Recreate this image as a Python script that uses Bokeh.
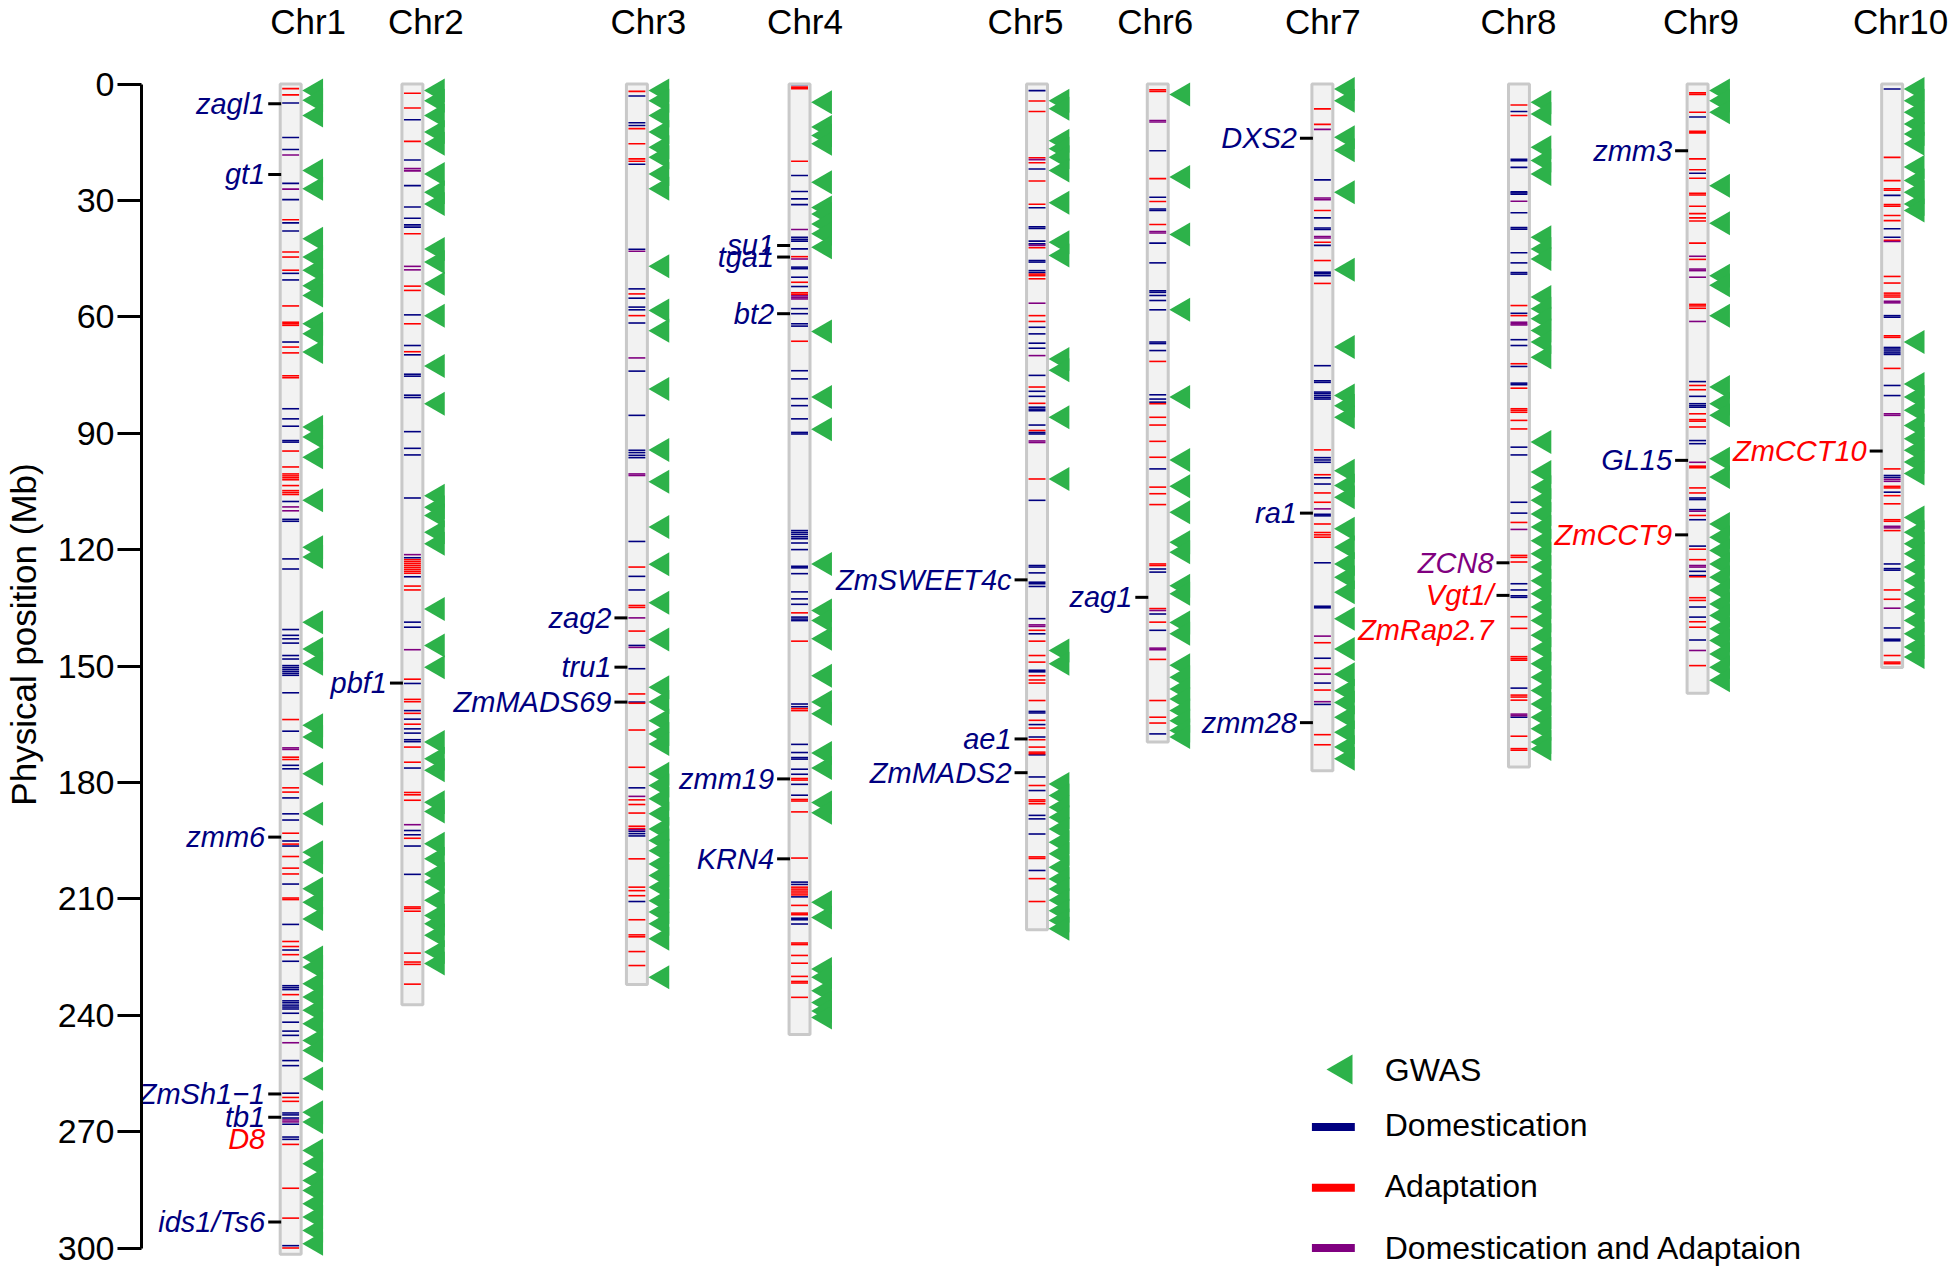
import math
from bokeh.plotting import figure
from bokeh.models import Range1d, LinearAxis, FixedTicker, ColumnDataSource
from bokeh.core.properties import value
from bokeh.embed import file_html
from bokeh.resources import INLINE

# ---------------- data (Mb) ----------------
CHROMS = ["Chr1", "Chr2", "Chr3", "Chr4", "Chr5", "Chr6", "Chr7", "Chr8", "Chr9", "Chr10"]
CHR_LEN = [301.6, 237.3, 232.1, 245.0, 218.0, 169.6, 177.0, 176.0, 157.0, 150.4]
Y_TICKS = [0, 30, 60, 90, 120, 150, 180, 210, 240, 270, 300]

DOM_1 = [4.9, 13.8, 16.9, 25.6, 29.8, 35.8, 37.9, 48.8, 50.5, 66.5, 83.7, 86.3, 88.2, 91.9, 92.3,
         107.6, 112.2, 112.7, 122.4, 125.0, 140.6, 142.1, 143.0, 144.1, 147.3, 148.2, 149.9, 150.4,
         150.9, 151.4, 151.9, 152.4, 156.9, 166.8, 175.6, 176.5, 184.0, 188.1, 189.7, 195.1, 196.4,
         206.2, 216.6, 223.2, 226.1, 232.4, 232.9, 233.4, 236.3, 236.8, 237.4, 237.9, 238.4, 239.5,
         241.8, 244.1, 245.2, 251.7, 253.0, 260.1, 265.2, 265.7, 266.5, 268.1, 271.4, 272.0, 299.4]
ADA_1 = [1.2, 2.8, 35.0, 43.3, 44.6, 48.0, 57.2, 61.4, 61.8, 62.2, 67.8, 69.3, 75.2, 75.7, 94.6,
         98.7, 100.5, 101.0, 101.5, 102.0, 103.5, 104.8, 105.3, 105.8, 163.8, 173.5, 174.1, 181.4,
         182.5, 193.1, 195.9, 199.1, 202.1, 203.6, 209.8, 210.2, 221.0, 222.3, 224.4, 234.7, 261.2,
         262.2, 273.3, 284.6, 292.3, 300.0]
BOTH_1 = [18.3, 27.1, 109.0, 110.0, 171.1, 171.5, 247.1, 267.0, 267.5]
GWAS_1 = [1.7, 4.2, 8.1, 22.3, 27.0, 39.9, 44.6, 48.0, 52.0, 54.5, 61.8, 64.4, 69.1, 88.4, 91.0,
          96.2, 107.3, 119.4, 121.9, 138.7, 145.6, 149.4, 165.3, 168.3, 177.8, 188.1, 198.0, 200.6,
          207.4, 210.9, 215.2, 225.1, 227.6, 231.9, 235.3, 238.7, 242.2, 246.5, 249.1, 256.4, 265.0,
          267.5, 274.9, 278.3, 282.6, 285.2, 288.6, 292.0, 295.5, 298.9]

DOM_2 = [9.2, 19.6, 26.2, 31.7, 34.6, 36.3, 36.9, 59.5, 67.4, 69.8, 74.8, 75.3, 80.2, 80.8, 89.6,
         93.9, 95.6, 106.7, 122.1, 127.0, 138.7, 140.0, 154.5, 161.5, 163.7, 166.2, 167.3, 169.0,
         169.5, 176.3, 192.4, 193.5, 196.4, 203.7]
ADA_2 = [2.4, 6.2, 14.8, 38.6, 52.1, 53.2, 61.8, 69.0, 122.6, 123.1, 123.6, 124.1, 124.6, 125.1,
         125.6, 126.1, 129.4, 130.4, 153.4, 158.6, 159.2, 162.2, 165.0, 170.9, 174.8, 182.6, 183.2,
         184.6, 194.4, 212.1, 212.5, 213.2, 224.0, 226.3, 226.9, 232.0]
BOTH_2 = [21.8, 22.4, 47.0, 47.9, 121.3, 145.8, 190.9]
GWAS_2 = [1.7, 4.3, 8.1, 12.4, 15.4, 23.2, 27.9, 30.9, 42.5, 45.9, 51.5, 59.7, 72.7, 82.4, 106.1,
          109.1, 111.2, 115.5, 118.5, 135.3, 144.7, 150.3, 169.6, 173.9, 176.9, 185.1, 187.5, 195.8,
          199.7, 203.6, 205.7, 210.4, 214.3, 216.4, 219.4, 223.7, 226.7]

DOM_3 = [3.1, 10.0, 10.7, 20.7, 42.6, 52.8, 55.2, 57.5, 58.2, 61.6, 74.0, 85.4, 94.4, 95.0, 95.7,
         96.3, 117.9, 126.9, 130.4, 144.7, 150.7, 159.3, 181.4, 192.6, 193.2, 193.8, 210.7]
ADA_3 = [1.9, 11.5, 15.4, 19.3, 19.9, 54.1, 59.7, 124.5, 134.4, 134.9, 141.0, 157.2, 159.6, 166.5,
         176.1, 184.5, 185.7, 187.9, 191.3, 191.9, 199.7, 207.0, 207.9, 209.2, 215.4, 219.3, 219.8,
         223.6, 227.2]
BOTH_3 = [43.1, 70.6, 100.5, 100.9, 137.6, 145.2, 183.6, 192.2]
GWAS_3 = [1.7, 4.3, 8.1, 12.4, 16.3, 18.9, 23.2, 27.0, 47.0, 58.4, 63.6, 78.6, 94.3, 102.5, 114.2,
          123.8, 133.7, 143.2, 155.5, 159.3, 164.1, 167.5, 170.1, 177.8, 180.8, 184.2, 188.1, 192.0,
          195.0, 197.6, 201.0, 204.0, 207.0, 210.5, 213.4, 216.4, 220.3, 230.2]

DOM_4 = [0.2, 23.6, 27.7, 29.6, 31.1, 39.5, 40.0, 40.5, 42.5, 47.2, 47.6, 49.8, 52.2, 57.9, 59.2,
         61.8, 62.4, 73.9, 76.0, 81.1, 82.9, 86.3, 89.8, 90.2, 115.1, 115.6, 116.1, 116.7, 117.2,
         118.3, 120.0, 124.3, 124.7, 126.2, 130.9, 132.7, 134.1, 137.4, 137.9, 138.3, 159.8, 160.5,
         170.2, 172.3, 173.6, 174.0, 176.6, 177.9, 180.5, 183.3, 205.7, 206.3, 209.5, 215.0, 215.4,
         216.5]
ADA_4 = [0.8, 1.2, 19.9, 44.5, 51.1, 53.8, 54.2, 66.3, 136.3, 143.6, 161.0, 161.5, 179.0, 179.4,
         184.4, 184.8, 187.6, 199.5, 207.0, 207.5, 208.0, 208.5, 209.0, 211.7, 213.7, 214.1, 221.4,
         221.8, 224.6, 226.6, 230.0, 231.3, 231.7, 235.4]
BOTH_4 = [37.5, 45.1, 54.6, 55.0, 55.4]
GWAS_4 = [4.7, 11.1, 13.3, 15.4, 25.3, 31.8, 33.5, 36.1, 38.6, 42.1, 63.8, 80.7, 89.0, 123.7,
          135.7, 138.3, 143.0, 152.5, 159.3, 162.3, 172.4, 176.3, 185.2, 187.8, 210.9, 214.8, 228.1,
          230.2, 233.7, 236.7, 238.9, 240.6]

DOM_5 = [1.7, 21.9, 31.9, 36.8, 37.2, 40.5, 41.2, 45.5, 45.9, 48.1, 48.6, 62.7, 64.4, 66.8, 68.1,
         75.1, 79.2, 80.5, 83.3, 83.8, 84.2, 87.9, 89.8, 90.2, 107.3, 124.1, 124.5, 126.0, 128.4,
         128.8, 129.5, 137.8, 141.7, 151.1, 151.5, 161.7, 162.1, 165.1, 168.3, 172.9, 178.6, 182.1,
         188.5, 189.4, 193.3, 202.7]
ADA_5 = [4.4, 7.1, 19.0, 20.3, 25.0, 31.0, 42.2, 49.0, 49.4, 50.2, 59.7, 61.2, 78.1, 82.3, 89.3,
         101.8, 140.8, 143.6, 147.3, 149.0, 152.5, 153.6, 154.4, 158.9, 164.0, 166.0, 169.0, 170.9,
         172.2, 172.6, 180.8, 184.5, 184.9, 185.5, 199.2, 199.6, 204.8, 210.7]
BOTH_5 = [19.5, 41.6, 56.5, 70.0, 92.0, 92.4, 139.4, 139.8]
GWAS_5 = [4.3, 6.4, 14.6, 16.7, 18.9, 22.3, 30.6, 40.8, 44.2, 70.9, 73.8, 85.9, 101.8, 146.0, 149.4,
          180.4, 183.4, 186.4, 189.0, 192.0, 195.4, 198.4, 201.9, 204.9, 207.5, 210.4, 213.1, 215.6,
          217.7]

DOM_6 = [17.2, 29.2, 32.2, 32.6, 41.0, 46.1, 53.3, 53.7, 54.5, 55.8, 58.2, 66.5, 66.9, 68.7, 80.1,
         81.2, 82.0, 99.2, 125.0, 125.8, 136.6, 140.8, 167.5]
ADA_6 = [1.5, 1.9, 24.4, 30.3, 36.2, 71.5, 82.4, 85.9, 87.9, 92.1, 96.2, 103.9, 105.6, 108.4, 123.7,
         124.1, 135.2, 138.7, 148.3, 158.9, 163.2, 164.7]
BOTH_6 = [9.4, 9.8, 38.0, 38.4, 135.7, 145.4, 145.8]
GWAS_6 = [2.7, 24.0, 38.8, 58.2, 80.7, 96.9, 103.7, 110.4, 118.1, 120.7, 129.3, 131.4, 138.8, 141.7,
          149.8, 152.9, 155.9, 158.5, 161.5, 164.1, 166.6, 168.3]

DOM_7 = [24.7, 34.5, 37.1, 37.5, 41.6, 48.5, 48.9, 49.4, 72.6, 76.5, 76.9, 79.4, 79.8, 80.3, 80.8,
         81.2, 96.3, 96.9, 97.5, 101.5, 103.1, 110.9, 111.3, 123.4, 134.6, 135.0, 148.0, 154.4, 159.9]
ADA_7 = [6.4, 10.4, 32.6, 40.8, 45.5, 51.4, 94.3, 100.7, 105.4, 107.8, 113.4, 115.6, 116.2, 116.8,
         144.0, 150.6, 156.2, 167.7, 170.3]
BOTH_7 = [11.7, 29.4, 29.8, 39.3, 39.7, 109.5, 142.3, 152.1, 159.2]
GWAS_7 = [1.3, 4.3, 13.7, 17.1, 27.9, 47.9, 67.8, 80.3, 82.9, 85.9, 99.7, 103.5, 106.5, 114.6, 119.4,
          123.7, 127.1, 131.0, 137.8, 145.6, 152.1, 156.4, 159.4, 163.2, 167.1, 170.9, 173.9]

DOM_8 = [7.1, 19.4, 19.8, 21.5, 27.8, 28.1, 28.4, 33.2, 37.0, 37.4, 43.5, 46.1, 48.6, 49.0, 59.1,
         65.9, 67.4, 72.8, 77.1, 77.5, 93.6, 95.6, 107.8, 110.6, 128.8, 130.4, 131.9, 132.3, 155.7,
         163.2]
ADA_8 = [5.4, 8.1, 57.1, 59.7, 72.1, 78.4, 83.7, 84.1, 84.6, 86.7, 88.9, 113.0, 121.5, 122.0, 123.2,
         137.3, 140.3, 147.6, 148.1, 148.5, 157.5, 158.0, 158.8, 168.1, 171.3, 171.7]
BOTH_8 = [30.2, 61.4, 61.8, 62.1, 114.8, 162.4, 162.8]
GWAS_8 = [4.7, 7.7, 16.3, 19.7, 23.2, 39.5, 42.5, 45.1, 54.9, 57.9, 60.5, 63.5, 66.5, 70.4, 92.3,
          100.0, 103.9, 107.3, 110.8, 114.2, 117.7, 121.1, 124.5, 128.0, 131.4, 134.8, 138.3, 142.1,
          145.6, 149.4, 152.9, 156.3, 159.8, 163.2, 166.2, 169.6, 171.4]

DOM_9 = [8.5, 23.0, 76.7, 80.5, 82.4, 82.9, 83.3, 91.9, 92.7, 106.7, 107.1, 109.7, 112.3, 119.1,
         125.6, 126.7, 134.8, 137.4, 143.3]
ADA_9 = [2.3, 2.7, 7.3, 12.2, 12.6, 19.3, 22.1, 24.3, 28.2, 28.6, 31.5, 33.4, 34.5, 35.3, 41.0, 45.2,
         56.8, 57.2, 57.8, 77.7, 78.8, 85.0, 86.5, 86.9, 88.4, 98.5, 98.9, 104.1, 105.4, 111.2, 119.9,
         122.6, 127.0, 132.4, 133.1, 138.6, 140.0, 149.9]
BOTH_9 = [44.4, 47.7, 48.1, 49.8, 61.2, 97.5, 110.1, 124.1, 124.5, 146.0]
GWAS_9 = [1.7, 4.3, 7.3, 26.2, 35.9, 49.4, 51.9, 59.7, 78.1, 82.4, 85.4, 96.6, 101.3, 113.4, 116.8,
          120.2, 123.7, 127.1, 130.5, 134.0, 137.0, 140.4, 143.4, 146.9, 150.3, 153.7]

DOM_10 = [1.3, 28.7, 37.3, 39.5, 59.7, 60.1, 67.9, 68.3, 68.8, 69.3, 69.7, 77.7, 80.3, 100.9, 101.4,
          105.2, 123.7, 124.9, 125.3, 140.2, 143.1, 143.5]
ADA_10 = [18.9, 24.9, 27.0, 27.4, 31.1, 31.5, 33.9, 35.2, 40.3, 49.6, 51.3, 53.9, 54.4, 54.9, 64.9,
          65.3, 73.3, 99.2, 103.7, 104.1, 106.1, 108.2, 112.3, 112.7, 115.1, 130.4, 132.8, 147.3,
          149.0, 149.4]
BOTH_10 = [40.6, 56.0, 56.4, 85.0, 85.4, 101.9, 102.4, 114.0, 114.4, 135.1]
GWAS_10 = [1.3, 4.3, 7.3, 10.3, 12.9, 15.4, 21.4, 24.9, 27.9, 30.9, 32.6, 66.5, 77.3, 80.7, 84.1,
           88.0, 91.4, 94.4, 97.4, 100.4, 111.7, 115.5, 118.5, 121.1, 124.5, 128.0, 131.4, 134.8,
           138.3, 141.7, 145.1, 147.7]

GENE_NAMES = ["zagl1", "gt1", "zmm6", "ZmSh1\u22121", "tb1", "D8", "ids1/Ts6", "pbf1", "zag2", "tru1",
              "ZmMADS69", "su1", "tga1", "bt2", "zmm19", "KRN4", "ZmSWEET4c", "ae1", "ZmMADS2",
              "zag1", "DXS2", "ra1", "zmm28", "ZCN8", "Vgt1/", "ZmRap2.7", "zmm3", "GL15",
              "ZmCCT9", "ZmCCT10"]
GENE_CHR = [1, 1, 1, 1, 1, 1, 1, 2, 3, 3, 3, 4, 4, 4, 4, 4, 5, 5, 5, 6, 7, 7, 7, 8, 8, 8, 9, 9, 9, 10]
GENE_POS = [5.1, 23.3, 194.1, 260.3, 266.3, 272.0, 293.3, 154.4, 137.6, 150.3, 159.3, 41.6, 44.6,
            59.2, 179.1, 199.7, 127.8, 168.8, 177.5, 132.3, 14.0, 110.6, 164.6, 123.4, 131.8,
            140.8, 17.2, 97.0, 116.2, 94.6]
GENE_KIND = ["Domestication"] * 5 + ["Adaptation"] + ["Domestication"] * 17 + \
            ["Domestication and Adaptaion", "Adaptation", "Adaptation",
             "Domestication", "Domestication", "Adaptation", "Adaptation"]
GENE_TICKED = [True] * 5 + [False] + [True] * 19 + [False] + [True] * 4

LEGEND_LABELS = ["GWAS", "Domestication", "Adaptation", "Domestication and Adaptaion"]

DOM = [DOM_1, DOM_2, DOM_3, DOM_4, DOM_5, DOM_6, DOM_7, DOM_8, DOM_9, DOM_10]
ADA = [ADA_1, ADA_2, ADA_3, ADA_4, ADA_5, ADA_6, ADA_7, ADA_8, ADA_9, ADA_10]
BOTH = [BOTH_1, BOTH_2, BOTH_3, BOTH_4, BOTH_5, BOTH_6, BOTH_7, BOTH_8, BOTH_9, BOTH_10]
GWAS = [GWAS_1, GWAS_2, GWAS_3, GWAS_4, GWAS_5, GWAS_6, GWAS_7, GWAS_8, GWAS_9, GWAS_10]

# ---------------- layout / style ----------------
CHR_LEFT = [276, 398, 623, 786, 1024, 1145, 1310, 1507, 1686, 1881]   # page px
CHR_W = 21
TITLE_X = [304, 422, 645, 802, 1023, 1153, 1321, 1517, 1700, 1900]
TITLE_Y = -16.1
NAVY, RED, PURPLE, GREEN = "#000080", "#FF0000", "#800080", "#2DB24A"
KIND_COLOR = {"Domestication": NAVY, "Adaptation": RED, "Domestication and Adaptaion": PURPLE}
FONT = value("Liberation Sans")

# figure sits at the page's top-left corner; 1 frame px == 1 page px
W, H = 1950, 1268
Y_TOP = (0 - 83.5) / 3.88
Y_BOT = (H - 83.5) / 3.88

p = figure(width=W, height=H, x_range=Range1d(137, W), y_range=Range1d(Y_BOT, Y_TOP),
           x_axis_type=None, y_axis_type=None, toolbar_location=None, output_backend="svg",
           min_border_left=137, min_border_right=0, min_border_top=0, min_border_bottom=0)
p.outline_line_color = None
p.grid.visible = False

yaxis = LinearAxis(ticker=FixedTicker(ticks=Y_TICKS), bounds=(0, 300),
                   axis_label="Physical position (Mb)")
yaxis.axis_line_width = 3
yaxis.axis_line_color = "black"
yaxis.major_tick_line_width = 3
yaxis.major_tick_line_color = "black"
yaxis.major_tick_out = 24
yaxis.major_tick_in = 0
yaxis.minor_tick_out = 0
yaxis.minor_tick_in = 0
yaxis.major_label_text_font_size = "34px"
yaxis.major_label_text_font = "Liberation Sans"
yaxis.major_label_text_color = "black"
yaxis.major_label_standoff = 3
yaxis.axis_label_text_font_size = "35px"
yaxis.axis_label_text_font = "Liberation Sans"
yaxis.axis_label_text_font_style = "normal"
yaxis.axis_label_text_color = "black"
yaxis.axis_label_standoff = 12
p.add_layout(yaxis, "left")

# chromosome bodies
left = CHR_LEFT
right = [l + CHR_W for l in CHR_LEFT]
p.quad(left=left, right=right, top=[0] * 10, bottom=CHR_LEN, fill_color="#F2F2F2", line_color=None)


def seg_source(groups):
    x0, x1, y = [], [], []
    for i, vals in enumerate(groups):
        for v in vals:
            x0.append(CHR_LEFT[i] + 2)
            x1.append(CHR_LEFT[i] + CHR_W - 2)
            y.append(v)
    return ColumnDataSource(dict(x0=x0, x1=x1, y=y))


for groups, col in ((DOM, NAVY), (ADA, RED), (BOTH, PURPLE)):
    p.segment(x0="x0", x1="x1", y0="y", y1="y", source=seg_source(groups), line_color=col,
              line_width=1.6)

p.quad(left=left, right=right, top=[0] * 10, bottom=CHR_LEN, fill_color=None,
       line_color="#C9C9C9", line_width=3)

# GWAS triangles
tx, ty = [], []
for i, vals in enumerate(GWAS):
    for v in vals:
        tx.append(CHR_LEFT[i] + CHR_W + 15)
        ty.append(v)
p.scatter(x=tx, y=ty, marker="triangle", size=24, angle=math.pi / 2, fill_color=GREEN,
          line_color=None)

# chromosome titles
p.text(x=TITLE_X, y=[TITLE_Y] * 10, text=CHROMS, text_font=FONT, text_font_size=value("35px"),
       text_align="center", text_baseline="alphabetic", text_color="black")

# gene labels
gx, gy, gc, kx0, kx1, ky = [], [], [], [], [], []
for name, c, pos, kind, ticked in zip(GENE_NAMES, GENE_CHR, GENE_POS, GENE_KIND, GENE_TICKED):
    l = CHR_LEFT[c - 1]
    gx.append(l - 15)
    gy.append(pos)
    gc.append(KIND_COLOR[kind])
    if ticked:
        kx0.append(l - 12)
        kx1.append(l + 1)
        ky.append(pos)
p.segment(x0=kx0, x1=kx1, y0=ky, y1=ky, line_color="black", line_width=3)
p.text(x=gx, y=gy, text=GENE_NAMES, text_color=gc, text_font=FONT, text_font_size=value("29px"),
       text_font_style="italic", text_align="right", text_baseline="middle")

# legend
LEG_Y = [254.0, 268.8, 284.5, 300.0]
p.scatter(x=[1342], y=[LEG_Y[0]], marker="triangle", size=30, angle=math.pi / 2,
          fill_color=GREEN, line_color=None)
p.segment(x0=[1310] * 3, x1=[1353] * 3, y0=LEG_Y[1:], y1=LEG_Y[1:],
          line_color=[NAVY, RED, PURPLE], line_width=8)
p.text(x=[1383] * 4, y=[254.0, 268.4, 283.9, 300.1], text=LEGEND_LABELS, text_font=FONT,
       text_font_size=value("32px"), text_align="left", text_baseline="middle", text_color="black")

open("out.html", "w").write(file_html(p, INLINE))
